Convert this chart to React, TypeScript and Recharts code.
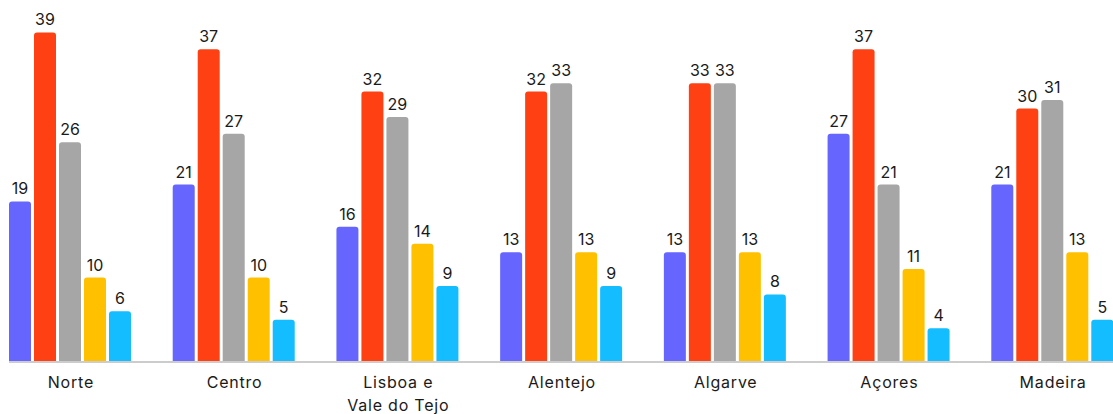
import React from "react";
import { BarChart, Bar, XAxis, YAxis, LabelList } from "recharts";

const categories = ["Norte", "Centro", "Lisboa e\nVale do Tejo", "Alentejo", "Algarve", "Açores", "Madeira"];
const serie1 = [19, 21, 16, 13, 13, 27, 21];
const serie2 = [39, 37, 32, 32, 33, 37, 30];
const serie3 = [26, 27, 29, 33, 33, 21, 31];
const serie4 = [10, 10, 14, 13, 13, 11, 13];
const serie5 = [6, 5, 9, 9, 8, 4, 5];

const seriesKeys = ["s1", "s2", "s3", "s4", "s5"];
const colors = ["#6666FF", "#FF4013", "#A6A6A6", "#FFC000", "#13BDFF"];

const data = categories.map((c, i) => ({
  name: c,
  s1: serie1[i],
  s2: serie2[i],
  s3: serie3[i],
  s4: serie4[i],
  s5: serie5[i],
}));

const FONT = "Inter, 'Noto Sans', sans-serif";

const Tick = (props: any) => {
  const { x, y, payload } = props;
  const lines = String(payload.value).split("\n");
  return (
    <text x={x} y={y} textAnchor="middle" fill="#1a1a1a" fontFamily={FONT} fontSize={16} letterSpacing={0.8}>
      {lines.map((l, i) => (
        <tspan key={i} x={x} dy={i === 0 ? 26 : 23}>
          {l}
        </tspan>
      ))}
    </text>
  );
};

export default function App() {
  return (
    <div style={{ position: "fixed", left: 0, top: 0, width: 1113, height: 414, overflow: "hidden", background: "#fff" }}>
      <BarChart
        width={1115}
        height={414}
        data={data}
        margin={{ top: 24, right: 0, left: 9, bottom: 0 }}
        barCategoryGap={20}
        barGap={3}
      >
        <XAxis
          dataKey="name"
          height={52}
          padding={{ left: -20, right: -20 }}
          tickLine={false}
          tickSize={0}
          tickMargin={0}
          axisLine={{ stroke: "#cccccc", strokeWidth: 2 }}
          tick={<Tick />}
          interval={0}
        />
        <YAxis hide domain={[0, 40]} />
        {seriesKeys.map((k, i) => (
          <Bar key={k} dataKey={k} fill={colors[i]} radius={[3, 3, 0, 0]} isAnimationActive={false}>
            <LabelList
              dataKey={k}
              position="top"
              offset={7}
              fill="#1a1a1a"
              fontFamily={FONT}
              fontSize={16}
            />
          </Bar>
        ))}
      </BarChart>
    </div>
  );
}
